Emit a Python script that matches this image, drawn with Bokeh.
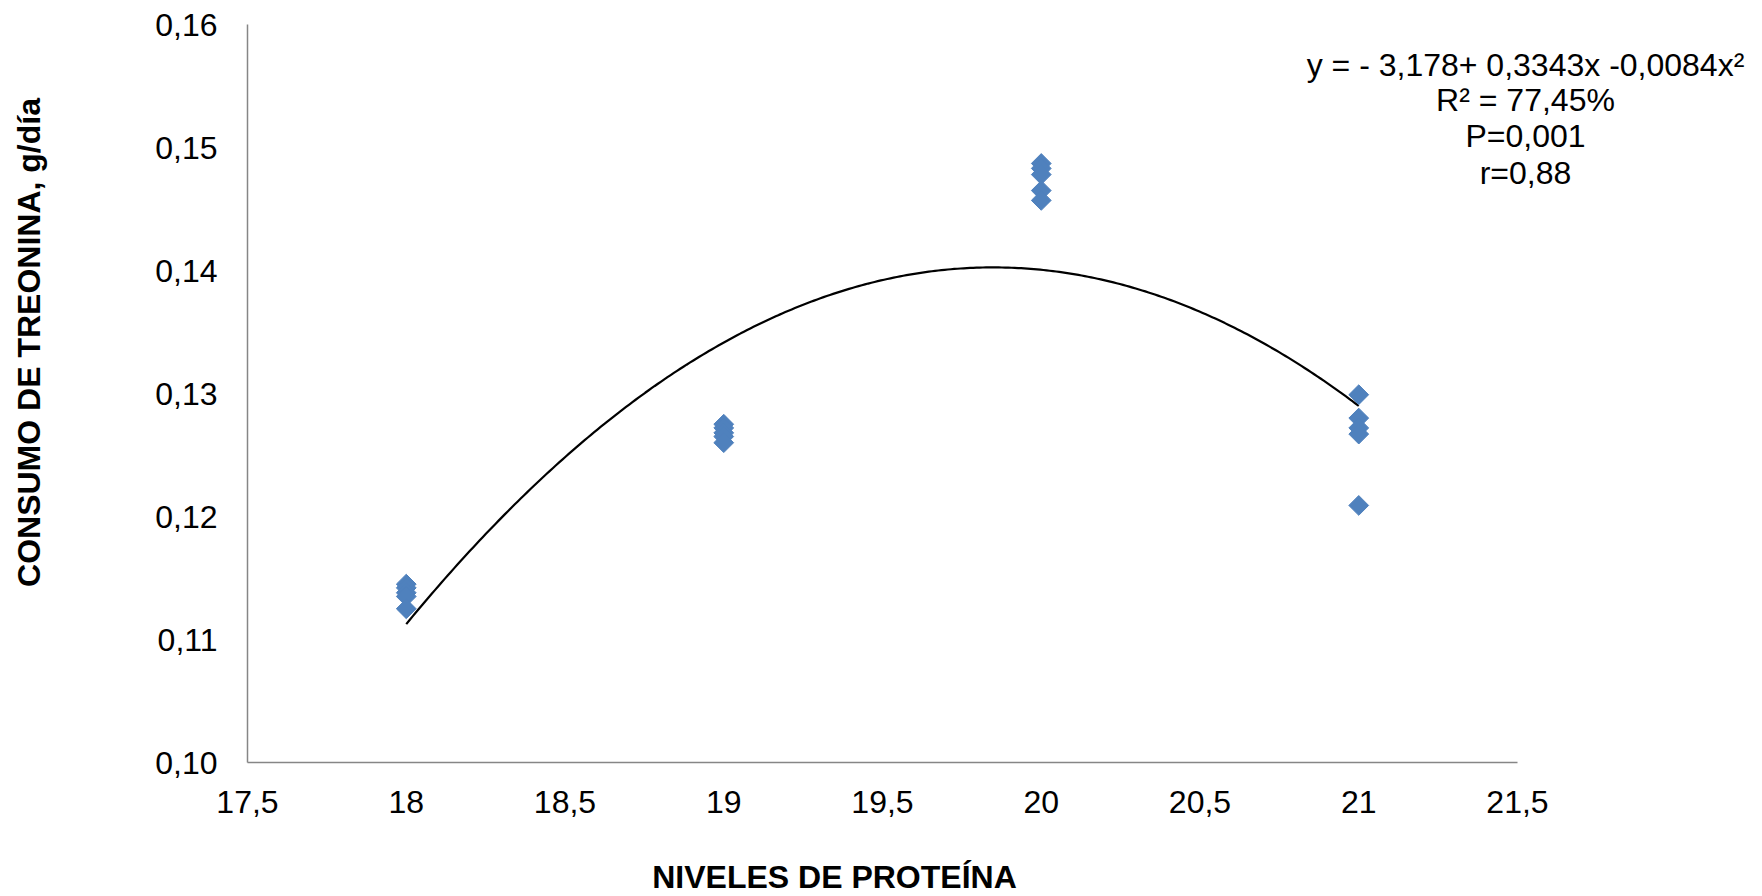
import numpy as np
from bokeh.plotting import figure
from bokeh.models import Label, FixedTicker, Range1d
from bokeh.embed import file_html
from bokeh.resources import INLINE

# Protein level (%) and threonine intake (g/day) per observation
proteina = [18, 18, 18, 18, 18,
            19, 19, 19, 19, 19,
            20, 20, 20, 20, 20,
            21, 21, 21, 21, 21]
consumo = [0.1145, 0.1142, 0.1138, 0.1135, 0.1125,
           0.1275, 0.1272, 0.1268, 0.1265, 0.1260,
           0.1487, 0.1483, 0.1478, 0.1465, 0.1457,
           0.1299, 0.1280, 0.1272, 0.1267, 0.1209]

x_ticks = [17.5, 18, 18.5, 19, 19.5, 20, 20.5, 21, 21.5]
x_tick_labels = ["17,5", "18", "18,5", "19", "19,5", "20", "20,5", "21", "21,5"]
y_ticks = [0.10, 0.11, 0.12, 0.13, 0.14, 0.15, 0.16]
y_tick_labels = ["0,10", "0,11", "0,12", "0,13", "0,14", "0,15", "0,16"]

eq_lines = ["y = - 3,178+ 0,3343x -0,0084x\u00b2",
            "R\u00b2 = 77,45%",
            "P=0,001",
            "r=0,88"]

FONT = "Liberation Sans"
FS = "32px"

# Canvas and plot-area geometry (pixels)
W, H = 1762, 896
AX_L, AX_R, AX_T, AX_B = 247, 1517, 24, 762
x0, x1 = x_ticks[0], x_ticks[-1]
y0, y1 = y_ticks[0], y_ticks[-1]
sx = (AX_R - AX_L) / (x1 - x0)
sy = (AX_B - AX_T) / (y1 - y0)

# The data frame spans the whole canvas so every text can sit anywhere
p = figure(frame_width=W, frame_height=H,
           min_border_left=0, min_border_right=0,
           min_border_top=0, min_border_bottom=0,
           x_range=Range1d(x0 - AX_L / sx, x1 + (W - AX_R) / sx),
           y_range=Range1d(y0 - (H - AX_B) / sy, y1 + AX_T / sy),
           output_backend="svg", toolbar_location=None,
           background_fill_color="white", border_fill_color="white")
p.outline_line_color = None
p.grid.grid_line_color = None

for ax in (p.xaxis[0], p.yaxis[0]):
    ax.axis_line_color = "#868686"
    ax.axis_line_width = 1.5
    ax.major_tick_line_color = None
    ax.minor_tick_line_color = None
    ax.major_label_text_font = FONT
    ax.major_label_text_font_size = FS
    ax.major_label_text_color = "black"

p.xaxis.fixed_location = y0
p.xaxis.bounds = (x0, x1)
p.xaxis.ticker = FixedTicker(ticks=x_ticks)
p.xaxis.major_label_overrides = dict(zip(x_ticks, x_tick_labels))
p.xaxis.major_label_standoff = 22

p.yaxis.fixed_location = x0
p.yaxis.bounds = (y0, y1)
p.yaxis.ticker = FixedTicker(ticks=y_ticks)
p.yaxis.major_label_overrides = dict(zip(y_ticks, y_tick_labels))
p.yaxis.major_label_standoff = 24

# Quadratic trend line fitted to the observations
coef = np.polyfit(proteina, consumo, 2)
xs = np.linspace(min(proteina), max(proteina), 300)
p.line(xs, np.polyval(coef, xs), line_color="black", line_width=2.2)

p.scatter(proteina, consumo, marker="square", angle=np.pi / 4, size=14,
          fill_color="#4F81BD", line_color="#4F81BD")


def px_x(px):
    return x0 + (px - AX_L) / sx


def px_y(py):
    return y0 + (AX_B - py) / sy


# Axis titles
p.add_layout(Label(x=px_x(834), y=px_y(876), text="NIVELES DE PROTEÍNA",
                   text_font=FONT, text_font_size=FS, text_font_style="bold",
                   text_color="black",
                   text_align="center", text_baseline="middle"))
p.add_layout(Label(x=px_x(28), y=px_y(342), text="CONSUMO DE TREONINA, g/día",
                   angle=np.pi / 2,
                   text_font=FONT, text_font_size=FS, text_font_style="bold",
                   text_color="black",
                   text_align="center", text_baseline="middle"))

# Regression statistics
for txt, py in zip(eq_lines, [64, 99, 135, 172]):
    p.add_layout(Label(x=px_x(1525), y=px_y(py), text=txt,
                       text_font=FONT, text_font_size=FS, text_color="black",
                       text_align="center", text_baseline="middle"))

open("out.html", "w").write(file_html(p, INLINE))
